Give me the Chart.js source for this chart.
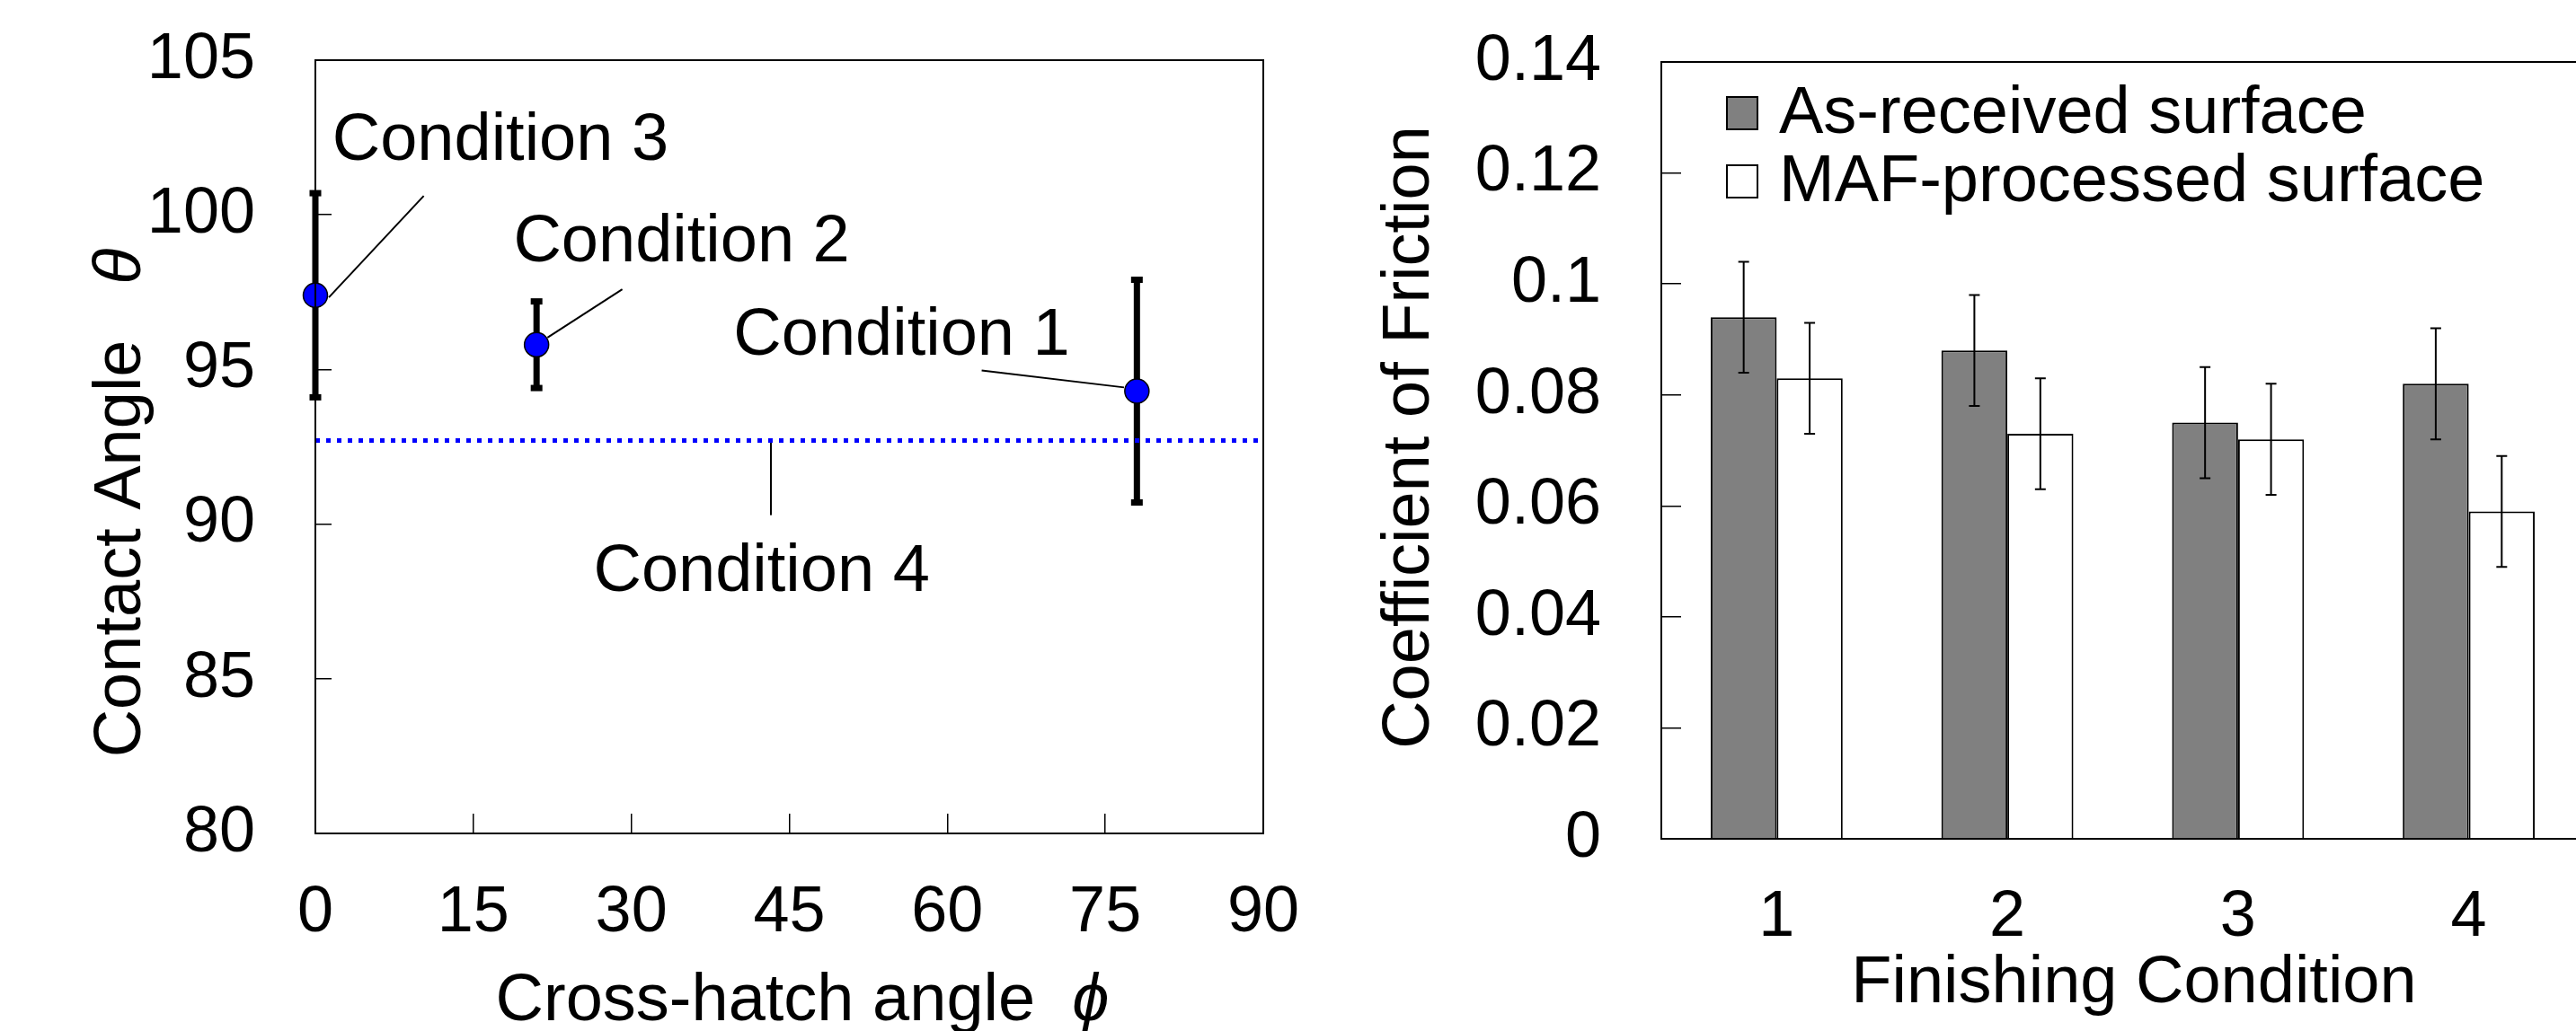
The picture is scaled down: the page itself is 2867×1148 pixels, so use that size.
<!DOCTYPE html>
<html><head><meta charset="utf-8">
<script src="https://cdn.jsdelivr.net/npm/chart.js@4.4.1/dist/chart.umd.min.js"></script>
<style>
html,body{margin:0;padding:0;background:#fff;overflow:hidden;width:2867px;height:1148px;}
#wrap{position:relative;width:2867px;height:1148px;overflow:hidden;background:#fff;}
canvas{position:absolute;top:0;}
#cA{left:0;} #cB{left:1450px;}
</style></head><body>
<div id="wrap"><canvas id="cA" width="1450" height="1148"></canvas><canvas id="cB" width="1430" height="1148"></canvas></div>
<script>
const FONT = "'Liberation Sans', Arial, 'DejaVu Sans', sans-serif";

// ---------- Left chart data ----------
const crossHatchAngles = [0, 21, 78];
const contactAngles = [97.4, 95.8, 94.3];
const contactAngleErr = [3.3, 1.4, 3.6];
const condition4Angle = 92.7;
const xTicksLeft = [0, 15, 30, 45, 60, 75, 90];
const yTicksLeft = [80, 85, 90, 95, 100, 105];
const conditionLabels = ['Condition 3', 'Condition 2', 'Condition 1', 'Condition 4'];
// label anchors and leader lines, in data units (angle, contact angle)
const labelAnchorX = [1.6, 18.8, 39.7, 26.4];
const labelAnchorY = [101.77, 98.49, 95.47, 87.85];
const leaderFrom = [[1.28, 97.33], [22.04, 96.03], [63.26, 94.97], [43.25, 92.73]];
const leaderTo = [[10.29, 100.61], [29.14, 97.59], [76.78, 94.42], [43.25, 90.29]];
const xTitleLeft = ['Cross-hatch angle  ', 'ϕ'];
const yTitleLeft = ['Contact Angle   ', 'θ'];

// ---------- Right chart data ----------
const finishingConditions = ['1', '2', '3', '4'];
const asReceivedCOF = [0.094, 0.088, 0.075, 0.082];
const asReceivedErr = [0.010, 0.010, 0.010, 0.010];
const mafCOF = [0.083, 0.073, 0.072, 0.059];
const mafErr = [0.010, 0.010, 0.010, 0.010];
const yTicksRight = [0, 0.02, 0.04, 0.06, 0.08, 0.10, 0.12, 0.14];
const yTickLabelsRight = ['0', '0.02', '0.04', '0.06', '0.08', '0.1', '0.12', '0.14'];
const seriesNames = ['As-received surface', 'MAF-processed surface'];
const xTitleRight = 'Finishing Condition';
const yTitleRight = 'Coefficient of Friction';

function drawMixed(ctx, parts, x, y, rot, size) {
  ctx.save();
  ctx.translate(x, y);
  ctx.rotate(rot);
  ctx.fillStyle = '#000';
  ctx.textBaseline = 'alphabetic';
  ctx.textAlign = 'left';
  let total = 0;
  const widths = parts.map((p, i) => {
    ctx.font = (i === 1 ? 'italic ' : '') + size + 'px ' + FONT;
    const w = ctx.measureText(p).width; total += w; return w;
  });
  let cx = -total / 2;
  parts.forEach((p, i) => {
    ctx.font = (i === 1 ? 'italic ' : '') + size + 'px ' + FONT;
    ctx.fillText(p, cx, 0);
    cx += widths[i];
  });
  ctx.restore();
}
function fixSize(prop, val) {
  return s => {
    s[prop] = val;
    s.paddingTop = 0; s.paddingBottom = 0; s.paddingLeft = 0; s.paddingRight = 0;
  };
}

Chart.defaults.font.family = FONT;
Chart.defaults.color = '#000';

// ---------- Left chart ----------
const leftPlugin = {
  id: 'leftDecor',
  beforeDatasetsDraw(chart) {
    const ctx = chart.ctx, xs = chart.scales.x, ys = chart.scales.y;
    ctx.save();
    ctx.fillStyle = '#000';
    ctx.strokeStyle = '#000';
    crossHatchAngles.forEach((a, i) => {
      const px = xs.getPixelForValue(a);
      const top = ys.getPixelForValue(contactAngles[i] + contactAngleErr[i]);
      const bot = ys.getPixelForValue(contactAngles[i] - contactAngleErr[i]);
      ctx.lineWidth = 7;
      ctx.beginPath(); ctx.moveTo(px, top); ctx.lineTo(px, bot); ctx.stroke();
      ctx.fillRect(px - 6.5, top - 3.5, 13, 7);
      ctx.fillRect(px - 6.5, bot - 3.5, 13, 7);
    });
    ctx.lineWidth = 2;
    leaderFrom.forEach((f, i) => {
      const t = leaderTo[i];
      ctx.beginPath();
      ctx.moveTo(xs.getPixelForValue(f[0]), ys.getPixelForValue(f[1]));
      ctx.lineTo(xs.getPixelForValue(t[0]), ys.getPixelForValue(t[1]));
      ctx.stroke();
    });
    ctx.font = '74px ' + FONT;
    ctx.textAlign = 'left';
    ctx.textBaseline = 'alphabetic';
    conditionLabels.forEach((l, i) => {
      ctx.fillText(l, xs.getPixelForValue(labelAnchorX[i]), ys.getPixelForValue(labelAnchorY[i]));
    });
    ctx.restore();
  },
  afterDraw(chart) {
    const ctx = chart.ctx, a = chart.chartArea;
    ctx.save();
    ctx.strokeStyle = '#000';
    ctx.lineWidth = 2;
    ctx.strokeRect(a.left, a.top, a.right - a.left, a.bottom - a.top);
    ctx.restore();
    drawMixed(ctx, yTitleLeft, 156, 560, -Math.PI / 2, 74);
    drawMixed(ctx, xTitleLeft, 893, 1136, 0, 74);
  }
};

new Chart(document.getElementById('cA'), {
  type: 'scatter',
  data: {
    datasets: [
      {
        type: 'scatter',
        data: crossHatchAngles.map((x, i) => ({ x, y: contactAngles[i] })),
        pointRadius: 13.5,
        pointBackgroundColor: '#0000FF',
        pointBorderColor: '#000',
        pointBorderWidth: 1.5,
        clip: false,
        order: 0
      },
      {
        type: 'line',
        data: [{ x: 0, y: condition4Angle }, { x: 89.5, y: condition4Angle }],
        borderColor: '#0000FF',
        borderWidth: 5,
        borderDash: [5, 7],
        pointRadius: 0,
        fill: false,
        order: 1
      }
    ]
  },
  options: {
    responsive: false,
    animation: false,
    events: [],
    layout: { padding: { top: 67, right: 44, left: 0, bottom: 0 } },
    plugins: { legend: { display: false }, tooltip: { enabled: false } },
    scales: {
      x: {
        type: 'linear', min: 0, max: 90,
        afterBuildTicks: s => { s.ticks = xTicksLeft.map(v => ({ value: v })); },
        afterFit: fixSize('height', 220),
        ticks: { font: { size: 72 }, color: '#000', padding: 68, maxRotation: 0 },
        grid: { display: true, drawOnChartArea: false, drawTicks: true, tickLength: -22, color: '#000', lineWidth: 1.5 },
        border: { display: true, color: '#000', width: 2 }
      },
      y: {
        type: 'linear', min: 80, max: 105,
        afterBuildTicks: s => { s.ticks = yTicksLeft.map(v => ({ value: v })); },
        afterFit: fixSize('width', 351),
        ticks: { font: { size: 72 }, color: '#000', padding: 85 },
        grid: { display: true, drawOnChartArea: false, drawTicks: true, tickLength: -18, color: '#000', lineWidth: 1.5 },
        border: { display: true, color: '#000', width: 2 }
      }
    }
  },
  plugins: [leftPlugin]
});

// ---------- Right chart ----------
const errs = [asReceivedErr, mafErr];
const rightPlugin = {
  id: 'rightDecor',
  afterDatasetsDraw(chart) {
    const ctx = chart.ctx, ys = chart.scales.y;
    ctx.save();
    ctx.strokeStyle = '#000';
    ctx.lineWidth = 2;
    chart.data.datasets.forEach((ds, d) => {
      const meta = chart.getDatasetMeta(d);
      meta.data.forEach((el, i) => {
        const v = ds.data[i], e = errs[d][i];
        const top = ys.getPixelForValue(v + e), bot = ys.getPixelForValue(v - e);
        ctx.beginPath();
        ctx.moveTo(el.x, top); ctx.lineTo(el.x, bot);
        ctx.moveTo(el.x - 6, top); ctx.lineTo(el.x + 6, top);
        ctx.moveTo(el.x - 6, bot); ctx.lineTo(el.x + 6, bot);
        ctx.stroke();
      });
    });
    ctx.restore();
  },
  afterDraw(chart) {
    const ctx = chart.ctx, a = chart.chartArea;
    ctx.save();
    ctx.strokeStyle = '#000';
    ctx.lineWidth = 2;
    ctx.beginPath();
    ctx.moveTo(a.left, a.top); ctx.lineTo(a.right, a.top); ctx.lineTo(a.right, a.bottom);
    ctx.stroke();
    ctx.font = '74px ' + FONT;
    ctx.textAlign = 'left';
    ctx.textBaseline = 'alphabetic';
    chart.data.datasets.forEach((ds, d) => {
      const bx = a.left + 73, by = a.top + 39 + d * 76;
      ctx.fillStyle = ds.backgroundColor;
      ctx.fillRect(bx, by, 34, 36);
      ctx.lineWidth = 2;
      ctx.strokeRect(bx, by, 34, 36);
      ctx.fillStyle = '#000';
      ctx.fillText(ds.label, a.left + 131, by + 40);
    });
    ctx.restore();
    drawMixed(ctx, [yTitleRight], 140, 487, -Math.PI / 2, 74);
    drawMixed(ctx, [xTitleRight], 925, 1116, 0, 74);
  }
};

new Chart(document.getElementById('cB'), {
  type: 'bar',
  data: {
    labels: finishingConditions,
    datasets: [
      { label: seriesNames[0], data: asReceivedCOF, backgroundColor: '#808080', borderColor: '#000', borderWidth: 2, borderSkipped: 'bottom' },
      { label: seriesNames[1], data: mafCOF, backgroundColor: '#FFFFFF', borderColor: '#000', borderWidth: 2, borderSkipped: 'bottom' }
    ]
  },
  options: {
    responsive: false,
    animation: false,
    events: [],
    layout: { padding: { top: 69, right: 4, left: 0, bottom: 0 } },
    datasets: { bar: { categoryPercentage: 0.572, barPercentage: 1.0 } },
    plugins: { legend: { display: false }, tooltip: { enabled: false } },
    scales: {
      x: {
        afterFit: fixSize('height', 214),
        ticks: { font: { size: 72 }, color: '#000', padding: 45, maxRotation: 0 },
        grid: { display: false, drawTicks: false },
        border: { display: true, color: '#000', width: 2 }
      },
      y: {
        type: 'linear', min: 0, max: 0.14,
        afterBuildTicks: s => { s.ticks = yTicksRight.map(v => ({ value: v })); },
        afterFit: fixSize('width', 399),
        ticks: { font: { size: 72 }, color: '#000', padding: 89, callback: (v, i) => yTickLabelsRight[i] },
        grid: { display: true, drawOnChartArea: false, drawTicks: true, tickLength: -22, color: '#000', lineWidth: 1.5 },
        border: { display: true, color: '#000', width: 2 }
      }
    }
  },
  plugins: [rightPlugin]
});
</script>
</body></html>
